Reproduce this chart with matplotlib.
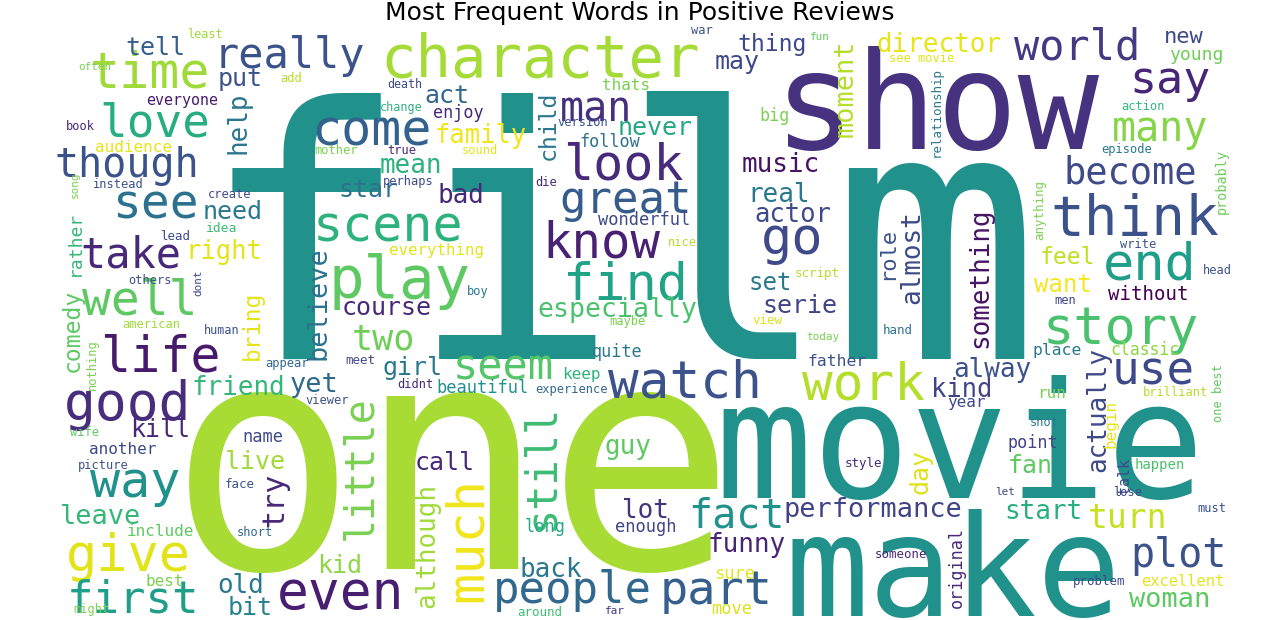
import matplotlib
matplotlib.use('Agg')
import matplotlib.pyplot as plt

# word -> font size in cloud pixels (stands in for frequency)
freq = {
    'film': 350, 'show': 135, 'one': 315, 'movie': 163, 'make': 140,
    'character': 59, 'time': 50, 'really': 42, 'tell': 25, 'love': 46,
    'come': 50, 'see': 48, 'though': 40, 'take': 42, 'well': 48,
    'life': 50, 'good': 53, 'way': 50, 'give': 52, 'first': 44,
    'leave': 27, 'even': 53, 'little': 40, 'much': 52, 'still': 42,
    'people': 44, 'part': 47, 'watch': 51, 'work': 51, 'fact': 40,
    'performance': 27, 'story': 52, 'end': 52, 'think': 56, 'become': 37,
    'use': 46, 'plot': 40, 'woman': 27, 'turn': 33, 'play': 59,
    'scene': 50, 'find': 52, 'know': 49, 'great': 44, 'look': 50,
    'man': 40, 'world': 42, 'say': 45, 'many': 40, 'director': 26,
    'go': 52, 'two': 35, 'seem': 42, 'girl': 25, 'yet': 27,
    'friend': 26, 'call': 25, 'although': 26, 'kid': 25, 'old': 26,
    'bit': 25, 'try': 30, 'live': 25, 'name': 17, 'face': 12.5,
    'short': 12, 'back': 26, 'lot': 26, 'funny': 26, 'guy': 26,
    'enough': 17, 'long': 17, 'sure': 17, 'far': 11, 'around': 12.5,
    'move': 17, 'especially': 26.5, 'set': 24, 'serie': 25, 'actor': 25.6,
    'real': 26, 'music': 26, 'alway': 26, 'kind': 25.5, 'year': 16,
    'fan': 25, 'start': 26, 'point': 16.7, 'day': 25, 'style': 12.5,
    'someone': 12.4, 'original': 16.7, 'problem': 12.4, 'actually': 26, 'begin': 16,
    'shot': 12, 'run': 16, 'place': 16.4, 'classic': 16.5, 'father': 16.4,
    'today': 11, 'hand': 12.5, 'script': 12.5, 'something': 26, 'almost': 26,
    'role': 22, 'moment': 27, 'see movie': 12, 'relationship': 12.5, 'feel': 23,
    'want': 24, 'without': 19, 'men': 12, 'anything': 12.5, 'write': 12,
    'episode': 12, 'action': 12, 'probably': 13.5, 'head': 12, 'fun': 11,
    'war': 12, 'thing': 23, 'may': 25, 'thats': 16, 'child': 23,
    'version': 12, 'never': 25, 'follow': 16.7, 'big': 16.7, 'die': 12,
    'wonderful': 17, 'nice': 12, 'maybe': 12, 'view': 12.5, 'quite': 16.7,
    'keep': 16, 'experience': 12, 'beautiful': 17, 'help': 26, 'put': 25,
    'act': 25, 'everyone': 15, 'least': 11.7, 'add': 12, 'death': 11.6,
    'change': 11.7, 'enjoy': 16.7, 'family': 25.5, 'mean': 26, 'star': 25,
    'bad': 26, 'need': 25, 'idea': 13, 'lead': 12.5, 'right': 25.6,
    'create': 12, 'perhaps': 12, 'mother': 12, 'true': 12, 'sound': 12,
    'everything': 15.8, 'believe': 27, 'course': 25, 'dont': 11, 'bring': 23,
    'boy': 12, 'human': 11.7, 'appear': 12, 'meet': 12.5, 'didnt': 12,
    'viewer': 12, 'american': 12, 'audience': 16, 'instead': 12, 'song': 11,
    'rather': 18, 'book': 12, 'often': 11, 'nothing': 12, 'comedy': 23,
    'others': 12, 'wife': 12, 'another': 16, 'picture': 12, 'kill': 25,
    'include': 16, 'best': 16, 'might': 12, 'young': 18, 'new': 22,
    'lose': 12, 'must': 12, 'happen': 14, 'talk': 15, 'let': 11,
    'brilliant': 12, 'one best': 12, 'excellent': 15.4,
}

# word -> (x, y, rotation, colour), in figure pixels from the top left
layout = {
    'film': (620, 261, 0, '#21918c'), 'show': (937, 111, 0, '#46327e'),
    'one': (452, 481, 0, '#a8db34'), 'movie': (960, 453, 0, '#21918c'),
    'make': (953, 576, 0, '#21918c'), 'character': (540, 60, 0, '#a5db36'),
    'time': (150, 73, 0, '#a0da39'), 'really': (289, 56, 0, '#3b528b'),
    'tell': (155, 48, 0, '#355f8d'), 'love': (155, 124, 0, '#27ad81'),
    'come': (372, 132, 0, '#33638d'), 'see': (155, 205, 0, '#2c728e'),
    'though': (127, 166, 0, '#3b528b'), 'take': (131, 255, 0, '#482878'),
    'well': (140, 301, 0, '#5ec962'), 'life': (160, 358, 0, '#481a6c'),
    'good': (128, 405, 0, '#472d7b'), 'way': (135, 483, 0, '#21918c'),
    'give': (128, 557, 0, '#e2e418'), 'first': (133, 600, 0, '#1f9e89'),
    'leave': (100, 517, 0, '#35b779'), 'even': (341, 594, 0, '#481f70'),
    'little': (360, 468, 90, '#7ad151'), 'much': (468, 540, 90, '#f1e51d'),
    'still': (541, 467, 90, '#3dbc74'), 'people': (572, 591, 0, '#31688e'),
    'part': (716, 592, 0, '#355f8d'), 'watch': (685, 383, 0, '#3b528b'),
    'work': (863, 385, 0, '#b5de2b'), 'fact': (736, 517, 0, '#21918c'),
    'performance': (873, 510, 0, '#414487'), 'story': (1121, 330, 0, '#4ac16d'),
    'end': (1150, 265, 0, '#1f9e89'), 'think': (1135, 220, 0, '#3b528b'),
    'become': (1130, 173, 0, '#3e4a89'), 'use': (1153, 372, 0, '#3e4989'),
    'plot': (1178, 556, 0, '#3b528b'), 'woman': (1170, 600, 0, '#5ec962'),
    'turn': (1128, 518, 0, '#c8e020'), 'play': (399, 282, 0, '#5ec962'),
    'scene': (388, 228, 0, '#2db27d'), 'find': (625, 285, 0, '#20a386'),
    'know': (601, 244, 0, '#482173'), 'great': (626, 200, 0, '#365c8d'),
    'look': (623, 165, 0, '#472a7a'), 'man': (596, 110, 0, '#46307e'),
    'world': (1077, 48, 0, '#443983'), 'say': (1170, 80, 0, '#482677'),
    'many': (1160, 130, 0, '#86d549'), 'director': (939, 45, 0, '#e7e419'),
    'go': (792, 240, 0, '#3e4a89'), 'two': (383, 340, 0, '#6ece58'),
    'seem': (503, 367, 0, '#54c568'), 'girl': (412, 368, 0, '#2a788e'),
    'yet': (314, 385, 0, '#31688e'), 'friend': (238, 388, 0, '#35b779'),
    'call': (445, 463, 0, '#482878'), 'although': (427, 545, 90, '#a0da39'),
    'kid': (340, 566, 0, '#8ed645'), 'old': (241, 586, 0, '#2a788e'),
    'bit': (250, 608, 0, '#26828e'), 'try': (275, 500, 90, '#482878'),
    'live': (255, 462, 0, '#a0da39'), 'name': (263, 437, 0, '#3e4989'),
    'face': (240, 485, 0, '#3b528b'), 'short': (255, 533, 0, '#31688e'),
    'back': (551, 570, 0, '#2a788e'), 'lot': (645, 511, 0, '#46337e'),
    'funny': (747, 545, 0, '#482475'), 'guy': (628, 447, 0, '#5ec962'),
    'enough': (646, 527, 0, '#414487'), 'long': (545, 527, 0, '#22a884'),
    'sure': (735, 574, 0, '#e5e419'), 'far': (615, 611, 0, '#443983'),
    'around': (540, 612, 0, '#3dbc74'), 'move': (732, 609, 0, '#dde318'),
    'especially': (617, 310, 0, '#4ac16d'), 'set': (770, 283, 0, '#2a788e'),
    'serie': (800, 306, 0, '#414487'), 'actor': (793, 215, 0, '#3e4a89'),
    'real': (779, 195, 0, '#2a788e'), 'music': (781, 165, 0, '#471365'),
    'alway': (992, 370, 0, '#3b528b'), 'kind': (962, 390, 0, '#414487'),
    'year': (966, 403, 0, '#3e4989'), 'fan': (1030, 466, 0, '#5ec962'),
    'start': (1043, 512, 0, '#29af7f'), 'point': (1033, 443, 0, '#414487'),
    'day': (921, 472, 90, '#dde318'), 'style': (863, 464, 0, '#472a7a'),
    'someone': (901, 555, 0, '#482878'), 'original': (957, 567, 90, '#482878'),
    'problem': (1099, 582, 0, '#3e4989'), 'actually': (1098, 410, 90, '#3e4989'),
    'begin': (1111, 424, 90, '#e5e419'), 'shot': (1044, 422, 0, '#2a788e'),
    'run': (1052, 393, 0, '#7ad151'), 'place': (1057, 350, 0, '#2a788e'),
    'classic': (1145, 350, 0, '#8ed645'), 'father': (837, 362, 0, '#3b528b'),
    'today': (823, 337, 0, '#7ad151'), 'hand': (898, 330, 0, '#2c728e'),
    'script': (817, 273, 0, '#b5de2b'), 'something': (980, 278, 90, '#471365'),
    'almost': (912, 257, 90, '#3e4a89'), 'role': (887, 253, 90, '#3b528b'),
    'moment': (846, 88, 90, '#b5de2b'), 'see movie': (922, 59, 0, '#e2e418'),
    'relationship': (936, 112, 90, '#2a788e'), 'feel': (1068, 257, 0, '#c2df23'),
    'want': (1063, 285, 0, '#f6e620'), 'without': (1148, 295, 0, '#440154'),
    'men': (1065, 300, 0, '#414487'), 'anything': (1040, 210, 90, '#7ad151'),
    'write': (1138, 245, 0, '#3b528b'), 'episode': (1127, 150, 0, '#2a788e'),
    'action': (1143, 106, 0, '#35b779'), 'probably': (1222, 182, 90, '#6ece58'),
    'head': (1217, 270, 0, '#3b528b'), 'fun': (820, 37, 0, '#5ec962'),
    'war': (702, 31, 0, '#3b528b'), 'thing': (772, 45, 0, '#3e4989'),
    'may': (737, 62, 0, '#3e4989'), 'thats': (626, 86, 0, '#7ad151'),
    'child': (548, 125, 90, '#2a788e'), 'version': (583, 123, 0, '#3b528b'),
    'never': (655, 128, 0, '#22a884'), 'follow': (610, 142, 0, '#2c728e'),
    'big': (775, 116, 0, '#7ad151'), 'die': (546, 182, 0, '#482878'),
    'wonderful': (644, 220, 0, '#3e4989'), 'nice': (682, 243, 0, '#b5de2b'),
    'maybe': (628, 322, 0, '#7ad151'), 'view': (767, 321, 0, '#dde318'),
    'quite': (617, 352, 0, '#2a788e'), 'keep': (581, 375, 0, '#2db27d'),
    'experience': (571, 390, 0, '#31688e'), 'beautiful': (482, 388, 0, '#21918c'),
    'help': (238, 123, 90, '#2a788e'), 'put': (240, 79, 0, '#3b528b'),
    'act': (447, 96, 0, '#31688e'), 'everyone': (182, 100, 0, '#481a6c'),
    'least': (205, 35, 0, '#a0da39'), 'add': (291, 78, 0, '#b5de2b'),
    'death': (405, 85, 0, '#3e4989'), 'change': (401, 108, 0, '#2db27d'),
    'enjoy': (458, 113, 0, '#482878'), 'family': (481, 136, 0, '#f1e51d'),
    'mean': (411, 166, 0, '#2db27d'), 'star': (368, 190, 0, '#2c728e'),
    'bad': (461, 196, 0, '#482878'), 'need': (233, 212, 0, '#2a788e'),
    'idea': (222, 228, 0, '#3dbc74'), 'lead': (175, 236, 0, '#3e4989'),
    'right': (224, 252, 0, '#e5e419'), 'create': (230, 194, 0, '#3e4989'),
    'perhaps': (408, 181, 0, '#3e4989'), 'mother': (336, 151, 0, '#7ad151'),
    'true': (402, 151, 0, '#472d7b'), 'sound': (480, 151, 0, '#e5e419'),
    'everything': (436, 250, 0, '#e2e418'), 'believe': (318, 303, 90, '#2c728e'),
    'course': (387, 308, 0, '#482878'), 'dont': (198, 283, 90, '#3e4989'),
    'bring': (252, 325, 90, '#e5e419'), 'boy': (478, 291, 0, '#2a788e'),
    'human': (222, 330, 0, '#3b528b'), 'appear': (287, 364, 0, '#31688e'),
    'meet': (360, 360, 0, '#3e4989'), 'didnt': (415, 385, 0, '#482878'),
    'viewer': (327, 400, 0, '#3b528b'), 'american': (151, 325, 0, '#a0da39'),
    'audience': (134, 148, 0, '#e5e419'), 'instead': (117, 185, 0, '#3b528b'),
    'song': (75, 185, 90, '#7ad151'), 'rather': (75, 243, 90, '#35b779'),
    'book': (80, 127, 0, '#482878'), 'often': (95, 67, 0, '#7ad151'),
    'nothing': (92, 365, 90, '#7ad151'), 'comedy': (72, 330, 90, '#5ec962'),
    'others': (150, 280, 0, '#3b528b'), 'wife': (85, 433, 0, '#5ec962'),
    'another': (123, 450, 0, '#3e4989'), 'picture': (103, 466, 0, '#3b528b'),
    'kill': (160, 430, 0, '#482878'), 'include': (160, 532, 0, '#5ec962'),
    'best': (165, 582, 0, '#7ad151'), 'might': (92, 610, 0, '#7ad151'),
    'young': (1196, 55, 0, '#6ece58'), 'new': (1184, 37, 0, '#3e4989'),
    'lose': (1128, 492, 0, '#3e4989'), 'must': (1212, 509, 0, '#3b528b'),
    'happen': (1160, 465, 0, '#4ac16d'), 'talk': (1124, 476, 90, '#3e4989'),
    'let': (1005, 492, 0, '#3e4989'), 'brilliant': (1175, 392, 0, '#b5de2b'),
    'one best': (1218, 393, 90, '#5ec962'), 'excellent': (1183, 581, 0, '#e5e419'),
}

fig = plt.figure(figsize=(12.8, 6.2), dpi=100)
ax = fig.add_axes([0, 0, 1, 1])
ax.set_xlim(0, 1280)
ax.set_ylim(620, 0)
ax.axis('off')

for word, size in freq.items():
    x, y, rot, color = layout[word]
    ax.text(x, y, word, fontsize=size * 0.72, family='DejaVu Sans Mono',
            color=color, rotation=rot, rotation_mode='anchor',
            ha='center', va='center')

fig.text(0.5, 1 - 20 / 620, 'Most Frequent Words in Positive Reviews',
         fontsize=18, ha='center', va='baseline')

fig.savefig('out.png', dpi=100, facecolor='white')
